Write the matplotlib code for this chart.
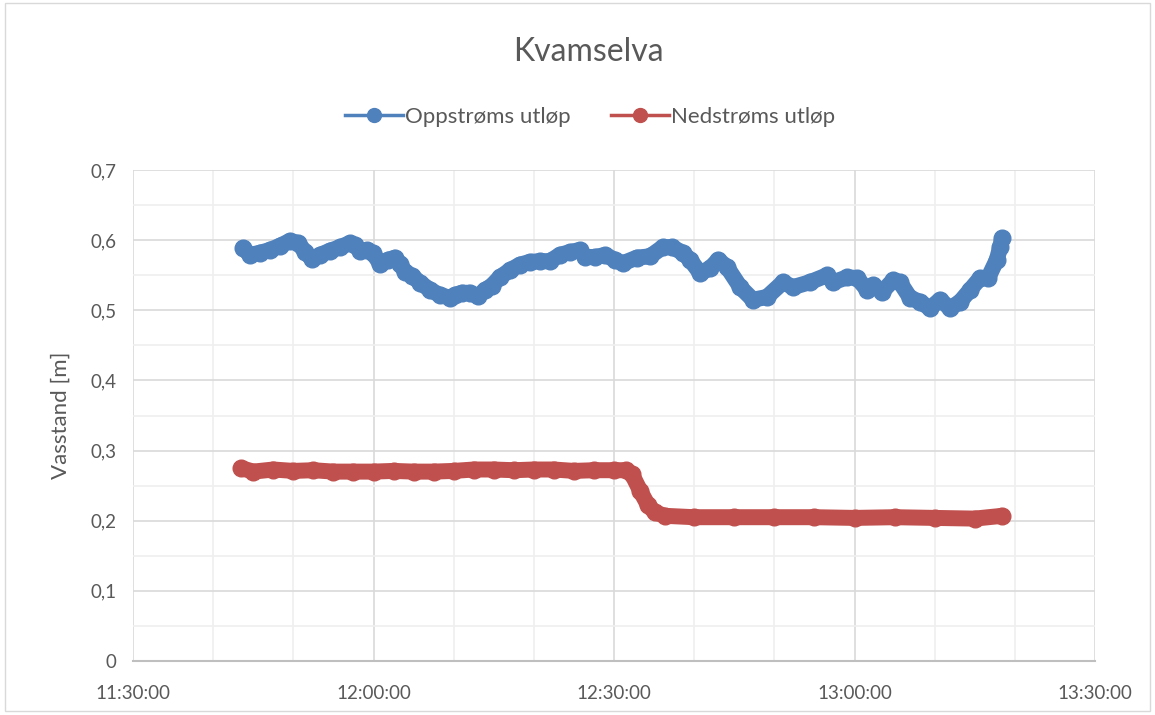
#!usr/bin/env python3

from datetime import datetime
import matplotlib
matplotlib.use("Agg")
import matplotlib.pyplot as plt
import matplotlib.dates as mdates
from matplotlib.lines import Line2D
from matplotlib.patches import Rectangle

plt.rcParams["font.family"] = ["Lato", "DejaVu Sans"]

DAY = "2020-01-01 "

# Oppstrøms utløp (blue)
up_times = [
    "11:43:45", "11:44:35", "11:45:50", "11:47:05", "11:48:20", "11:49:35",
    "11:50:35", "11:51:30", "11:52:20", "11:53:20", "11:54:35", "11:55:50",
    "11:57:05", "11:57:40", "11:58:20", "11:59:10", "11:59:55", "12:00:50",
    "12:01:50", "12:02:40", "12:03:20", "12:03:55", "12:04:50", "12:05:50",
    "12:07:05", "12:08:15", "12:09:30", "12:10:10", "12:11:00", "12:12:00",
    "12:13:00", "12:13:55", "12:14:45", "12:15:45", "12:17:00", "12:18:15",
    "12:19:30", "12:20:45", "12:22:00", "12:23:15", "12:24:30", "12:25:45",
    "12:26:25", "12:27:40", "12:28:55", "12:30:05", "12:31:05", "12:32:50",
    "12:34:30", "12:36:05", "12:37:15", "12:38:35", "12:39:30", "12:40:45",
    "12:42:00", "12:43:00", "12:44:05", "12:45:45", "12:47:20", "12:49:05",
    "12:51:05", "12:52:20", "12:54:25", "12:56:35", "12:57:20", "12:59:05",
    "13:00:20", "13:01:35", "13:02:20", "13:03:25", "13:04:50", "13:05:40",
    "13:06:55", "13:08:10", "13:09:25", "13:10:40", "13:11:55", "13:13:10",
    "13:14:25", "13:15:40", "13:16:40", "13:17:45", "13:18:10", "13:18:25",
]
up_values = [
    0.589, 0.579, 0.582, 0.586, 0.592, 0.599,
    0.596, 0.583, 0.573, 0.579, 0.585, 0.590,
    0.596, 0.593, 0.585, 0.586, 0.582, 0.566,
    0.572, 0.575, 0.566, 0.555, 0.549, 0.539,
    0.529, 0.522, 0.518, 0.522, 0.525, 0.525,
    0.520, 0.529, 0.535, 0.547, 0.557, 0.565,
    0.569, 0.570, 0.570, 0.579, 0.583, 0.586,
    0.576, 0.576, 0.579, 0.572, 0.567, 0.575,
    0.577, 0.590, 0.590, 0.582, 0.572, 0.553,
    0.560, 0.572, 0.562, 0.533, 0.515, 0.519,
    0.540, 0.533, 0.540, 0.550, 0.540, 0.547,
    0.546, 0.529, 0.536, 0.526, 0.543, 0.540,
    0.518, 0.512, 0.503, 0.515, 0.503, 0.512,
    0.529, 0.546, 0.546, 0.572, 0.590, 0.603,
]

# Nedstrøms utløp (red)
down_times = [
    "11:43:30", "11:45:00", "11:47:30", "11:50:00", "11:52:30", "11:55:00",
    "11:57:30", "12:00:00", "12:02:30", "12:05:00", "12:07:30", "12:10:00",
    "12:12:30", "12:15:00", "12:17:30", "12:20:00", "12:22:30", "12:25:00",
    "12:27:30", "12:30:00", "12:31:30", "12:32:15", "12:33:15", "12:34:15",
    "12:35:05", "12:36:20", "12:40:00", "12:45:00", "12:50:00", "12:55:00",
    "13:00:00", "13:05:00", "13:10:00", "13:15:00", "13:18:25",
]
down_values = [
    0.275, 0.270, 0.273, 0.271, 0.272, 0.270,
    0.270, 0.270, 0.271, 0.270, 0.270, 0.271,
    0.273, 0.273, 0.272, 0.273, 0.273, 0.271,
    0.272, 0.272, 0.272, 0.266, 0.243, 0.222,
    0.212, 0.207, 0.205, 0.205, 0.205, 0.205,
    0.204, 0.205, 0.204, 0.203, 0.207,
]

BLUE = "#4F81BD"
RED = "#C0504D"
TEXT = "#595959"


def to_dt(times):
    return [datetime.strptime(DAY + t, "%Y-%m-%d %H:%M:%S") for t in times]


fig = plt.figure(figsize=(11.55, 7.15), dpi=100)
ax = fig.add_axes([133 / 1155, 54 / 715, 962 / 1155, 491 / 715])

for times, values, color in [(up_times, up_values, BLUE), (down_times, down_values, RED)]:
    ax.plot(to_dt(times), values, color=color, linewidth=11.5, marker="o",
            markersize=12, solid_capstyle="round", solid_joinstyle="round", zorder=3)

ax.set_xlim(datetime(2020, 1, 1, 11, 30), datetime(2020, 1, 1, 13, 30))
ax.set_ylim(0, 0.7)

ax.xaxis.set_major_locator(mdates.MinuteLocator(byminute=[0, 30]))
ax.xaxis.set_minor_locator(mdates.MinuteLocator(byminute=[10, 20, 40, 50]))
ax.xaxis.set_major_formatter(mdates.DateFormatter("%H:%M:%S"))
ax.set_yticks([i / 10 for i in range(8)])
ax.set_yticks([0.05 + i / 10 for i in range(7)], minor=True)
ax.set_yticklabels(["0"] + [f"0,{i}" for i in range(1, 8)])

ax.grid(which="major", color="#D9D9D9", linewidth=1.2)
ax.grid(which="minor", color="#EFEFEF", linewidth=1.2)
ax.set_axisbelow(True)

for side in ["top", "right", "left"]:
    ax.spines[side].set_visible(False)
ax.spines["bottom"].set_color("#BFBFBF")
ax.spines["bottom"].set_linewidth(1.5)

ax.tick_params(which="both", length=0, labelsize=13.5, colors=TEXT)
ax.tick_params(axis="x", pad=17)
ax.tick_params(axis="y", pad=12)

ax.set_ylabel("Vasstand [m]", fontsize=16, color=TEXT, labelpad=14)
fig.text(588 / 1155, 1 - 52 / 715, "Kvamselva", ha="center", va="center",
         fontsize=23, color=TEXT)

handles = [
    Line2D([], [], color=BLUE, linewidth=2.5, marker="o", markersize=10),
    Line2D([], [], color=RED, linewidth=2.5, marker="o", markersize=10),
]
fig.legend(handles, ["Oppstrøms utløp", "Nedstrøms utløp"], loc="center",
           bbox_to_anchor=(590 / 1155, 1 - 117 / 715), ncol=2, frameon=False,
           fontsize=16, labelcolor=TEXT, handlelength=2.6, handletextpad=0.1,
           columnspacing=1.8)

fig.patches.append(Rectangle((0.004, 0.006), 0.992, 0.99, transform=fig.transFigure,
                             fill=False, edgecolor="#D9D9D9", linewidth=1))

fig.savefig("out.png", dpi=100)
